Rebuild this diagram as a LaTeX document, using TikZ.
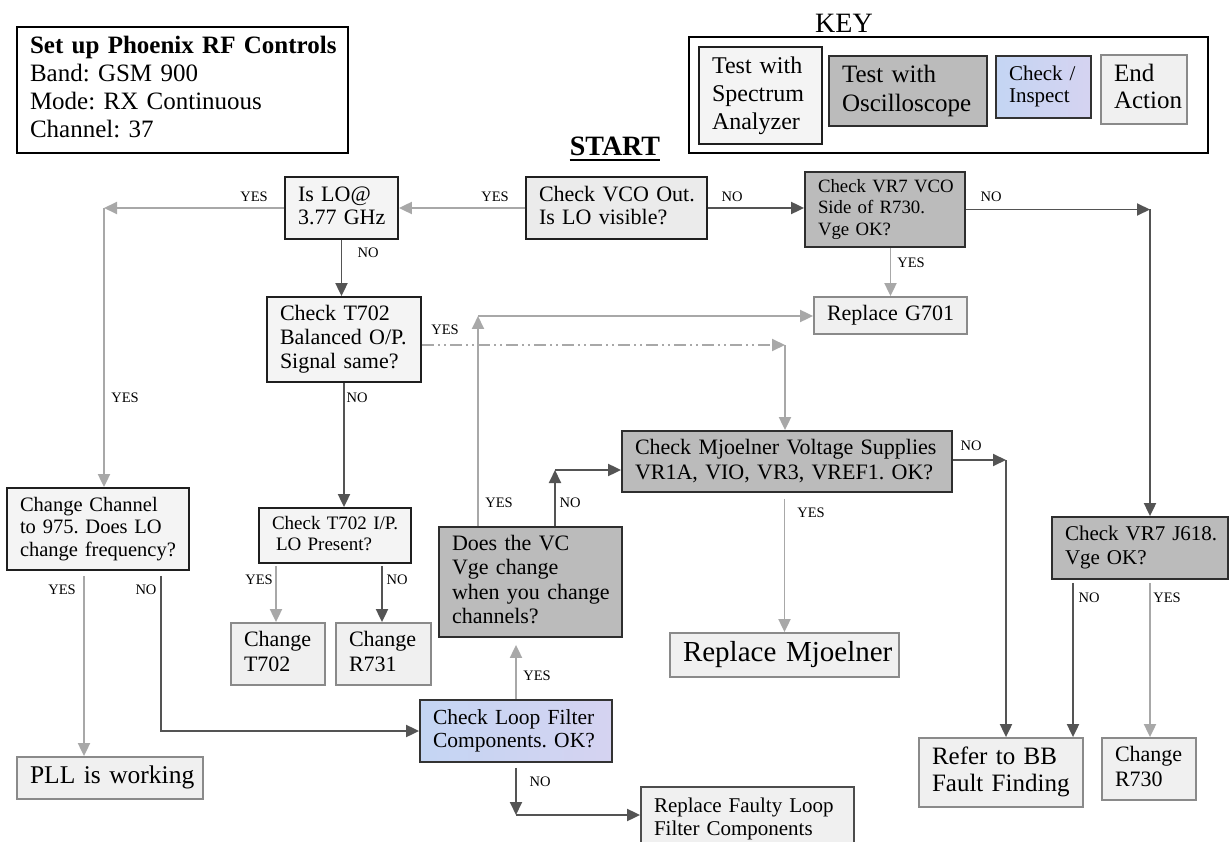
\documentclass[tikz,border=0pt]{standalone}
\usepackage{fontspec}
\setmainfont{Liberation Serif}
\usetikzlibrary{arrows.meta}
\frenchspacing

\definecolor{lnDark}{HTML}{545454}
\definecolor{lnLight}{HTML}{A8A8A8}
\definecolor{saFill}{HTML}{F4F4F4}
\definecolor{oscFill}{HTML}{BBBBBB}
\definecolor{endFill}{HTML}{F0F0F0}
\definecolor{endLine}{HTML}{8A8A8A}
\definecolor{chkA}{HTML}{C4D5F3}
\definecolor{chkB}{HTML}{D5D3F1}

% lines of a box, never wrapped
\newcommand{\lns}[1]{\begin{tabular}{@{}l@{}}#1\end{tabular}}

\tikzset{
  boxsz/.style 2 args={minimum width=#1pt, minimum height=#2pt,
    /utils/exec={\pgfmathsetmacro\boxtw{#1-26}},
    text width/.expanded=\boxtw pt},
  fsz/.style 2 args={font=\fontsize{#1}{#2}\selectfont},
  box/.style={rectangle, inner xsep=13pt, inner ysep=2pt, align=left, line width=1.8pt},
  sabox/.style={box, draw=black!88, fill=saFill},
  oscbox/.style={box, draw=black!82, fill=oscFill},
  chkbox/.style={box, draw=black!80, left color=chkA, right color=chkB},
  endbox/.style={box, draw=endLine, fill=endFill},
  yesarr/.style={draw=lnLight, line width=1.9pt, -{Triangle[length=13pt,width=12pt]}},
  noarr/.style={draw=lnDark, line width=1.9pt, -{Triangle[length=13pt,width=12pt]}},
  dashdot/.style={dash pattern=on 12pt off 4pt on 2pt off 4pt on 2pt off 4pt},
  lbl/.style={inner sep=0pt, fsz={14.5}{15}}
}

\begin{document}
\begin{tikzpicture}[x=1pt, y=-1pt]
  \useasboundingbox (0,0) rectangle (1229,842);

  %--- Setup and key ---
  \node[box, draw=black, fill=white, boxsz={331}{126}, fsz={25}{28}] (setup) at (182.5,90)
    {\lns{\textbf{Set up Phoenix RF Controls}\\Band: GSM 900\\Mode: RX Continuous\\Channel: 37}};

  \node[inner sep=0pt, fsz={28}{30}] (keylbl) at (844,23) {KEY};
  \node[draw=black, line width=1.5pt, fill=white, minimum width=519pt, minimum height=116pt] (keybox) at (948.5,95) {};
  \node[sabox, boxsz={123}{97}, fsz={24}{28}] (keysa) at (760.5,95.5) {\lns{Test with\\Spectrum\\Analyzer}};
  \node[oscbox, boxsz={158}{70}, fsz={25}{29}] (keyosc) at (908,91) {\lns{Test with\\Oscilloscope}};
  \node[chkbox, boxsz={95}{62}, fsz={21}{22}] (keychk) at (1043.5,87) {\lns{Check /\\Inspect}};
  \node[endbox, boxsz={86}{69}, fsz={25}{27}] (keyend) at (1144,89.5) {\lns{End\\Action}};

  \node[inner sep=0pt, fsz={28}{30}] (start) at (615,146) {\textbf{START}};
  \draw[line width=2.6pt] ([yshift=-5pt]start.base west) -- ([yshift=-5pt]start.base east);

  %--- Boxes ---
  \node[sabox, boxsz={113}{62}, fsz={22}{23}] (islo) at (341.5,208) {\lns{Is LO@\\3.77 GHz}};
  \node[sabox, fill=black!8, boxsz={181}{62}, fsz={22}{23}] (vco) at (616.5,208) {\lns{Check VCO Out.\\Is LO visible?}};
  \node[oscbox, boxsz={160}{75}, fsz={18.8}{21.5}] (vr7vco) at (885,209.5) {\lns{Check VR7 VCO\\Side of R730.\\Vge OK?}};
  \node[endbox, boxsz={153}{37}, fsz={22}{24}] (g701) at (890.5,315.5) {\lns{Replace G701}};
  \node[sabox, boxsz={154}{85}, fsz={22}{24}] (t702) at (344,339.5) {\lns{Check T702\\Balanced O/P.\\Signal same?}};
  \node[oscbox, boxsz={330}{61}, fsz={22}{25}] (mjoel) at (787,461.5) {\lns{Check Mjoelner Voltage Supplies\\VR1A, VIO, VR3, VREF1. OK?}};
  \node[sabox, boxsz={182}{82}, fsz={20.5}{22.5}] (chch) at (98,529) {\lns{Change Channel\\to 975. Does LO\\change frequency?}};
  \node[sabox, boxsz={152}{55}, fsz={19}{21}] (t702ip) at (335,535.5) {\lns{Check T702 I/P.\\\hspace*{4pt}LO Present?}};
  \node[oscbox, boxsz={183}{110}, fsz={22}{24.3}] (doesvc) at (530.5,582) {\lns{Does the VC\\Vge change\\when you change\\channels?}};
  \node[oscbox, boxsz={176}{62}, fsz={21}{24}] (vr7j) at (1140,548) {\lns{Check VR7 J618.\\Vge OK?}};
  \node[endbox, boxsz={94}{62}, fsz={22}{25}] (ct702) at (278,654) {\lns{Change\\T702}};
  \node[endbox, boxsz={95}{62}, fsz={22}{25}] (cr731) at (383.5,654) {\lns{Change\\R731}};
  \node[endbox, boxsz={229}{44}, fsz={29}{30}] (rmjoel) at (784.5,655) {\lns{Replace Mjoelner}};
  \node[chkbox, boxsz={192}{62}, fsz={21.5}{23}] (loop) at (516,731) {\lns{Check Loop Filter\\Components. OK?}};
  \node[endbox, boxsz={186}{42}, fsz={25.5}{27}] (pll) at (110,778) {\lns{PLL is working}};
  \node[endbox, draw=black!70, boxsz={213}{65}, fsz={21}{23}] (faulty) at (747.5,819.5) {\lns{Replace Faulty Loop\\Filter Components}};
  \node[endbox, boxsz={164}{69}, fsz={25}{27}] (referbb) at (1001,772.5) {\lns{Refer to BB\\Fault Finding}};
  \node[endbox, boxsz={94}{62}, fsz={22}{25}] (r730) at (1149,769) {\lns{Change\\R730}};

  %--- Corners ---
  \coordinate (ca) at (104,208);
  \coordinate (cb) at (1150,209.5);
  \coordinate (cc) at (785,345);
  \coordinate (cd) at (478,316);
  \coordinate (ce) at (555,470);
  \coordinate (cf) at (1006,460);
  \coordinate (cg) at (516,815);

  %--- Connectors ---
  \draw[yesarr] (vco.west) -- (islo.east);
  \draw[noarr] (vco.east) -- (vco.east -| vr7vco.west);
  \draw[yesarr] (islo.west) -- (ca);
  \draw[yesarr] (ca) -- (ca |- chch.north);
  \draw[noarr] (vr7vco.east) -- (cb);
  \draw[noarr] (cb) -- (cb |- vr7j.north);
  \draw[noarr] (islo.south) -- (islo.south |- t702.north);
  \draw[yesarr] (g701.north |- vr7vco.south) -- (g701.north);
  \draw[yesarr, dashdot] (t702.east |- cc) -- (cc);
  \draw[yesarr] (cc) -- (cc |- mjoel.north);
  \draw[noarr] (t702.south) -- (t702.south |- t702ip.north);
  \draw[yesarr] ([xshift=-52.5pt]doesvc.north) -- (cd);
  \draw[yesarr] (cd) -- (cd -| g701.west);
  \draw[noarr] ([xshift=24.5pt]doesvc.north) -- (ce);
  \draw[noarr] (ce) -- (ce -| mjoel.west);
  \draw[noarr] (mjoel.east |- cf) -- (cf);
  \draw[noarr] (cf) -- (cf |- referbb.north);
  \draw[yesarr] ([yshift=-6pt]rmjoel.north |- mjoel.south) -- (rmjoel.north);
  \draw[yesarr] ([xshift=-14pt,yshift=-5pt]chch.south) -- ([xshift=-14pt]chch.south |- pll.north);
  \draw[noarr] ([xshift=63pt,yshift=-5pt]chch.south) |- (loop.west);
  \draw[yesarr] ([xshift=-59pt,yshift=-2pt]t702ip.south) -- ([xshift=-59pt]t702ip.south |- ct702.north);
  \draw[noarr] ([xshift=47pt,yshift=-2pt]t702ip.south) -- ([xshift=47pt]t702ip.south |- cr731.north);
  \draw[yesarr] (loop.north) -- ([yshift=-7pt]loop.north |- doesvc.south);
  \draw[noarr] ([yshift=-5pt]loop.south) -- (cg);
  \draw[noarr] (cg) -- (cg -| faulty.west);
  \draw[noarr] ([xshift=-67pt,yshift=-3pt]vr7j.south) -- ([xshift=-67pt]vr7j.south |- referbb.north);
  \draw[yesarr] ([xshift=10pt,yshift=-3pt]vr7j.south) -- ([xshift=10pt]vr7j.south |- r730.north);

  %--- Labels ---
  \node[lbl] (y1) at (495,197) {YES};
  \node[lbl] (y2) at (254,197) {YES};
  \node[lbl] (n1) at (732,197) {NO};
  \node[lbl] (n2) at (991,197) {NO};
  \node[lbl] (n3) at (368,253) {NO};
  \node[lbl] (y3) at (911,263) {YES};
  \node[lbl] (y4) at (445,330) {YES};
  \node[lbl] (y5) at (125,398) {YES};
  \node[lbl] (n4) at (357,398) {NO};
  \node[lbl] (n5) at (971,446) {NO};
  \node[lbl] (y6) at (499,503) {YES};
  \node[lbl] (n6) at (570,503) {NO};
  \node[lbl] (y7) at (811,513) {YES};
  \node[lbl] (y8) at (259,580) {YES};
  \node[lbl] (n7) at (397,580) {NO};
  \node[lbl] (y9) at (62,590) {YES};
  \node[lbl] (n8) at (146,590) {NO};
  \node[lbl] (n9) at (1089,598) {NO};
  \node[lbl] (y10) at (1167,598) {YES};
  \node[lbl] (y11) at (537,676) {YES};
  \node[lbl] (n10) at (540,782) {NO};
\end{tikzpicture}
\end{document}
